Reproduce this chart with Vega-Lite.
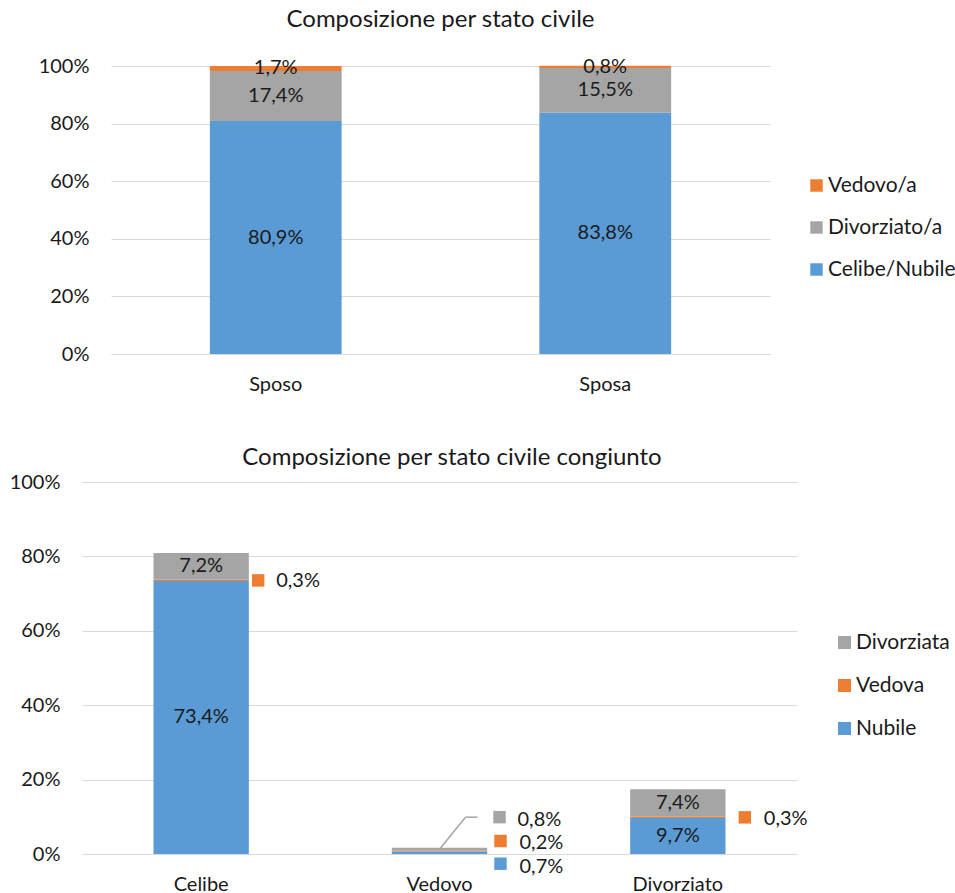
{
  "$schema": "https://vega.github.io/schema/vega-lite/v6.json",
  "padding": {"left": 9, "top": 8, "right": 0, "bottom": 0},
  "background": "white",
  "spacing": 52,
  "config": {
    "locale": {"number": {"decimal": ",", "thousands": ".", "grouping": [3], "currency": ["", " €"]}},
    "view": {"stroke": null},
    "font": "Lato",
    "title": {"font": "Lato", "fontSize": 24, "fontWeight": "normal", "color": "#1a1a1a", "anchor": "middle"},
    "axis": {"labelFont": "Lato", "labelFontSize": 20, "labelColor": "#1a1a1a", "ticks": false, "title": null, "gridColor": "#D9D9D9", "domainColor": "#D9D9D9"},
    "legend": {"labelFont": "Lato", "labelFontSize": 21, "labelColor": "#1a1a1a"},
    "text": {"font": "Lato", "fontSize": 20, "color": "#1a1a1a"}
  },
  "resolve": {"scale": {"color": "independent", "x": "independent", "y": "independent"}, "legend": {"color": "independent"}},
  "vconcat": [
    {
      "width": 659,
      "height": 288,
      "title": {"text": "Composizione per stato civile", "offset": 24},
      "data": {"values": [
        {"cat": "Sposo", "serie": "Celibe/Nubile", "k": 1, "val": 0.809},
        {"cat": "Sposo", "serie": "Divorziato/a", "k": 2, "val": 0.174},
        {"cat": "Sposo", "serie": "Vedovo/a", "k": 3, "val": 0.017},
        {"cat": "Sposa", "serie": "Celibe/Nubile", "k": 1, "val": 0.838},
        {"cat": "Sposa", "serie": "Divorziato/a", "k": 2, "val": 0.155},
        {"cat": "Sposa", "serie": "Vedovo/a", "k": 3, "val": 0.008}
      ]},
      "encoding": {
        "x": {"field": "cat", "type": "nominal", "sort": ["Sposo", "Sposa"], "scale": {"paddingInner": 0.6, "paddingOuter": 0.3}, "axis": {"labelAngle": 0, "domain": true, "grid": false, "labelPadding": 20}}
      },
      "layer": [
        {
          "mark": {"type": "bar"},
          "encoding": {
            "y": {"field": "val", "type": "quantitative", "stack": "zero", "scale": {"domain": [0, 1], "nice": false}, "axis": {"values": [0, 0.2, 0.4, 0.6, 0.8, 1], "format": ".0%", "domain": false, "grid": true, "labelPadding": 22}},
            "color": {"field": "serie", "type": "nominal", "scale": {"domain": ["Vedovo/a", "Divorziato/a", "Celibe/Nubile"], "range": ["#ED7D31", "#A5A5A5", "#5B9BD5"]}, "legend": {"title": null, "orient": "none", "legendX": 695, "legendY": 109, "symbolType": "square", "symbolSize": 155, "symbolStrokeWidth": 0, "rowPadding": 20, "labelOffset": 1}},
            "order": {"field": "k", "type": "quantitative", "sort": "ascending"}
          }
        },
        {
          "transform": [
            {"stack": "val", "groupby": ["cat"], "sort": [{"field": "k", "order": "ascending"}], "as": ["y0", "y1"]},
            {"fold": ["y0", "y1"], "as": ["end", "pos"]},
            {"aggregate": [{"op": "mean", "field": "pos", "as": "mid"}], "groupby": ["cat", "serie", "val", "k"]}
          ],
          "mark": {"type": "text"},
          "encoding": {
            "y": {"field": "mid", "type": "quantitative"},
            "text": {"field": "val", "type": "quantitative", "format": ".1%"}
          }
        }
      ]
    },
    {
      "width": 686,
      "height": 372,
      "title": {"text": "Composizione per stato civile congiunto", "offset": 2, "dx": -2},
      "data": {"values": [
        {"cat": "Celibe", "serie": "Nubile", "k": 1, "val": 0.734},
        {"cat": "Celibe", "serie": "Vedova", "k": 2, "val": 0.003},
        {"cat": "Celibe", "serie": "Divorziata", "k": 3, "val": 0.072},
        {"cat": "Vedovo", "serie": "Nubile", "k": 1, "val": 0.007},
        {"cat": "Vedovo", "serie": "Vedova", "k": 2, "val": 0.002},
        {"cat": "Vedovo", "serie": "Divorziata", "k": 3, "val": 0.008},
        {"cat": "Divorziato", "serie": "Nubile", "k": 1, "val": 0.097},
        {"cat": "Divorziato", "serie": "Vedova", "k": 2, "val": 0.003},
        {"cat": "Divorziato", "serie": "Divorziata", "k": 3, "val": 0.074}
      ]},
      "encoding": {
        "x": {"field": "cat", "type": "nominal", "sort": ["Celibe", "Vedovo", "Divorziato"], "scale": {"range": [-29, 686], "paddingInner": 0.6, "paddingOuter": 0.3}, "axis": {"labelAngle": 0, "domain": true, "grid": false, "labelPadding": 20}},
        "color": {"field": "serie", "type": "nominal", "scale": {"domain": ["Divorziata", "Vedova", "Nubile"], "range": ["#A5A5A5", "#ED7D31", "#5B9BD5"]}, "legend": {"title": null, "orient": "none", "legendX": 723, "legendY": 150, "symbolType": "square", "symbolSize": 170, "symbolStrokeWidth": 0, "rowPadding": 21, "labelOffset": 1}}
      },
      "layer": [
        {
          "mark": {"type": "bar"},
          "encoding": {
            "y": {"field": "val", "type": "quantitative", "stack": "zero", "scale": {"domain": [0, 1], "nice": false}, "axis": {"values": [0, 0.2, 0.4, 0.6, 0.8, 1], "format": ".0%", "domain": false, "grid": true, "labelPadding": 22, "offset": 29}},
            "order": {"field": "k", "type": "quantitative", "sort": "ascending"}
          }
        },
        {
          "transform": [
            {"stack": "val", "groupby": ["cat"], "sort": [{"field": "k", "order": "ascending"}], "as": ["y0", "y1"]},
            {"fold": ["y0", "y1"], "as": ["end", "pos"]},
            {"aggregate": [{"op": "mean", "field": "pos", "as": "mid"}], "groupby": ["cat", "serie", "val", "k"]}
          ],
          "layer": [
            {
              "transform": [{"filter": "datum.val >= 0.05"}],
              "mark": {"type": "text"},
              "encoding": {"y": {"field": "mid", "type": "quantitative"}, "text": {"field": "val", "type": "quantitative", "format": ".1%"}, "color": {"value": "#1a1a1a"}}
            },
            {
              "transform": [{"filter": "datum.cat == 'Celibe' && datum.serie == 'Vedova'"}],
              "mark": {"type": "point", "shape": "square", "filled": true, "size": 155, "opacity": 1, "xOffset": 57},
              "encoding": {"y": {"field": "mid", "type": "quantitative"}}
            },
            {
              "transform": [{"filter": "datum.cat == 'Celibe' && datum.serie == 'Vedova'"}],
              "mark": {"type": "text", "align": "left", "dx": 75, "dy": 1},
              "encoding": {"y": {"field": "mid", "type": "quantitative"}, "text": {"field": "val", "type": "quantitative", "format": ".1%"}, "color": {"value": "#1a1a1a"}}
            },
            {
              "transform": [{"filter": "datum.cat == 'Divorziato' && datum.serie == 'Vedova'"}],
              "mark": {"type": "point", "shape": "square", "filled": true, "size": 155, "opacity": 1, "xOffset": 67},
              "encoding": {"y": {"field": "mid", "type": "quantitative"}}
            },
            {
              "transform": [{"filter": "datum.cat == 'Divorziato' && datum.serie == 'Vedova'"}],
              "mark": {"type": "text", "align": "left", "dx": 86, "dy": 2},
              "encoding": {"y": {"field": "mid", "type": "quantitative"}, "text": {"field": "val", "type": "quantitative", "format": ".1%"}, "color": {"value": "#1a1a1a"}}
            },
            {
              "transform": [{"filter": "datum.cat == 'Vedovo' && datum.serie == 'Nubile'"}],
              "mark": {"type": "point", "shape": "square", "filled": true, "size": 155, "opacity": 1, "xOffset": 61, "yOffset": 11},
              "encoding": {"y": {"field": "mid", "type": "quantitative"}}
            },
            {
              "transform": [{"filter": "datum.cat == 'Vedovo' && datum.serie == 'Nubile'"}],
              "mark": {"type": "text", "align": "left", "dx": 80, "dy": 14},
              "encoding": {"y": {"field": "mid", "type": "quantitative"}, "text": {"field": "val", "type": "quantitative", "format": ".1%"}, "color": {"value": "#1a1a1a"}}
            },
            {
              "transform": [{"filter": "datum.cat == 'Vedovo' && datum.serie == 'Vedova'"}],
              "mark": {"type": "point", "shape": "square", "filled": true, "size": 155, "opacity": 1, "xOffset": 61, "yOffset": -10},
              "encoding": {"y": {"field": "mid", "type": "quantitative"}}
            },
            {
              "transform": [{"filter": "datum.cat == 'Vedovo' && datum.serie == 'Vedova'"}],
              "mark": {"type": "text", "align": "left", "dx": 80, "dy": -8},
              "encoding": {"y": {"field": "mid", "type": "quantitative"}, "text": {"field": "val", "type": "quantitative", "format": ".1%"}, "color": {"value": "#1a1a1a"}}
            },
            {
              "transform": [{"filter": "datum.cat == 'Vedovo' && datum.serie == 'Divorziata'"}],
              "mark": {"type": "point", "shape": "square", "filled": true, "size": 155, "opacity": 1, "xOffset": 60, "yOffset": -32},
              "encoding": {"y": {"field": "mid", "type": "quantitative"}}
            },
            {
              "transform": [{"filter": "datum.cat == 'Vedovo' && datum.serie == 'Divorziata'"}],
              "mark": {"type": "text", "align": "left", "dx": 78, "dy": -29},
              "encoding": {"y": {"field": "mid", "type": "quantitative"}, "text": {"field": "val", "type": "quantitative", "format": ".1%"}, "color": {"value": "#1a1a1a"}}
            },
            {
              "transform": [{"filter": "datum.cat == 'Vedovo' && datum.serie == 'Divorziata'"}],
              "mark": {"type": "rule", "x2Offset": 26, "y2Offset": -32, "strokeWidth": 1.5},
              "encoding": {"x": {"field": "cat", "type": "nominal", "bandPosition": 0.5}, "x2": {"field": "cat", "bandPosition": 0.5}, "y": {"field": "mid", "type": "quantitative"}, "y2": {"field": "mid"}, "color": {"value": "#A5A5A5"}}
            },
            {
              "transform": [{"filter": "datum.cat == 'Vedovo' && datum.serie == 'Divorziata'"}],
              "mark": {"type": "rule", "xOffset": 26, "x2Offset": 38, "yOffset": -32, "y2Offset": -32, "strokeWidth": 1.5},
              "encoding": {"x": {"field": "cat", "type": "nominal", "bandPosition": 0.5}, "x2": {"field": "cat", "bandPosition": 0.5}, "y": {"field": "mid", "type": "quantitative"}, "y2": {"field": "mid"}, "color": {"value": "#A5A5A5"}}
            }
          ]
        }
      ]
    }
  ]
}
